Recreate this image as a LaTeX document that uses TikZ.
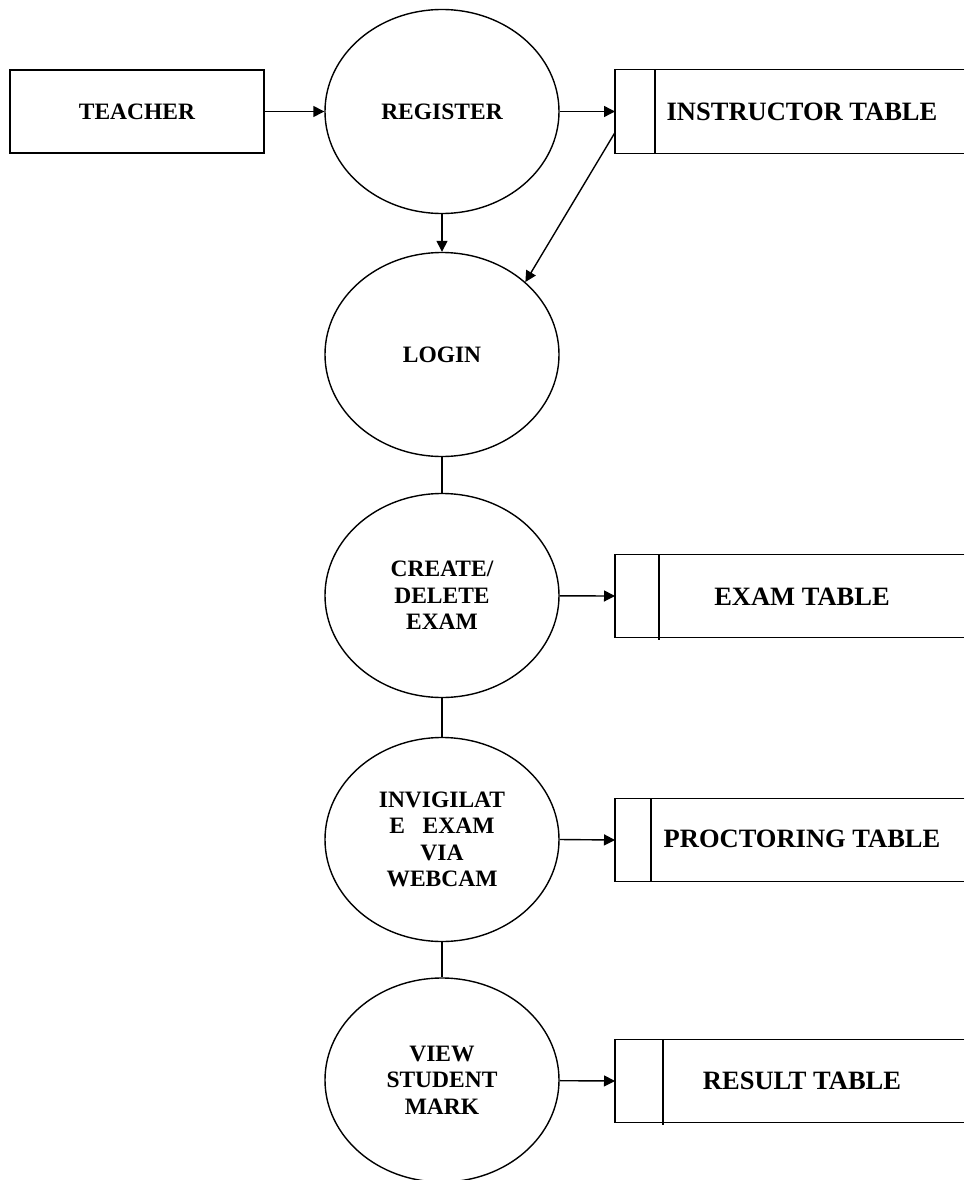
\documentclass[tikz,border=0pt]{standalone}
\usepackage{fontspec}
\setmainfont{Liberation Serif}
\usetikzlibrary{shapes.geometric,arrows.meta}
\begin{document}
\begin{tikzpicture}[x=1pt,y=-1pt,
  proc/.style={draw, ellipse, line width=1.4pt, minimum width=234pt, minimum height=204pt,
    inner sep=0pt, align=center, font=\fontsize{23.5}{26.5}\selectfont\bfseries},
  ext/.style={draw, rectangle, line width=1.4pt, minimum width=254pt, minimum height=83pt,
    inner sep=0pt, font=\fontsize{23.5}{26.5}\selectfont\bfseries},
  storebox/.style={rectangle, minimum width=349pt, minimum height=83pt, inner sep=0pt, anchor=west},
  storeline/.style={line width=1.4pt},
  storetxt/.style={inner sep=0pt, font=\fontsize{26.5}{30}\selectfont\bfseries},
  flow/.style={line width=1.4pt, -{Triangle[length=11pt,width=11pt]}},
  link/.style={line width=1.4pt}
]
\useasboundingbox (0,0) rectangle (964,1180);

% external entity
\node[ext] (teacher) at (137,111.5) {TEACHER};

% processes
\node[proc] (reg) at (442,111.5) {REGISTER};
\node[proc] (login) at (442,354.5) {LOGIN};
\node[proc] (create) at (442,595.5) {CREATE/\\DELETE\\EXAM};
\node[proc] (invig) at (442,839.5) {INVIGILAT\\E~~~EXAM\\VIA\\WEBCAM};
\node[proc] (view) at (442,1080) {VIEW\\STUDENT\\MARK};

% data stores
\node[storebox] (inst) at (615,111.5) {};
\node[storetxt] (instl) at (802,112) {INSTRUCTOR TABLE};
\node[storebox] (exam) at (615,596) {};
\node[storetxt] (examl) at (802,597) {EXAM TABLE};
\node[storebox] (proc) at (615,840) {};
\node[storetxt] (procl) at (802,839) {PROCTORING TABLE};
\node[storebox] (res) at (615,1081) {};
\node[storetxt] (resl) at (802,1081) {RESULT TABLE};

\draw[storeline] (inst.north east) -- (inst.north west) -- (inst.south west) -- (inst.south east);
\draw[storeline] ([xshift=40pt]inst.north west) -- ([xshift=40pt]inst.south west);
\draw[storeline] (exam.north east) -- (exam.north west) -- (exam.south west) -- (exam.south east);
\draw[storeline] ([xshift=44pt]exam.north west) -- ([xshift=44pt,yshift=-2pt]exam.south west);
\draw[storeline] (proc.north east) -- (proc.north west) -- (proc.south west) -- (proc.south east);
\draw[storeline] ([xshift=36pt]proc.north west) -- ([xshift=36pt]proc.south west);
\draw[storeline] (res.north east) -- (res.north west) -- (res.south west) -- (res.south east);
\draw[storeline] ([xshift=48pt]res.north west) -- ([xshift=48pt,yshift=-2pt]res.south west);

% flows
\draw[flow] (teacher) -- (reg);
\draw[flow] (reg) -- (inst.west);
\draw[flow] (reg) -- (login);
\draw[flow] ([yshift=-21pt]inst.west) -- (login.41);
\draw[link] (login) -- (create);
\draw[link] (create) -- (invig);
\draw[link] (invig) -- (view);
\draw[flow] (create) -- (exam.west);
\draw[flow] (invig.east) -- (proc.west);
\draw[flow] (view) -- (res.west);
\end{tikzpicture}
\end{document}
